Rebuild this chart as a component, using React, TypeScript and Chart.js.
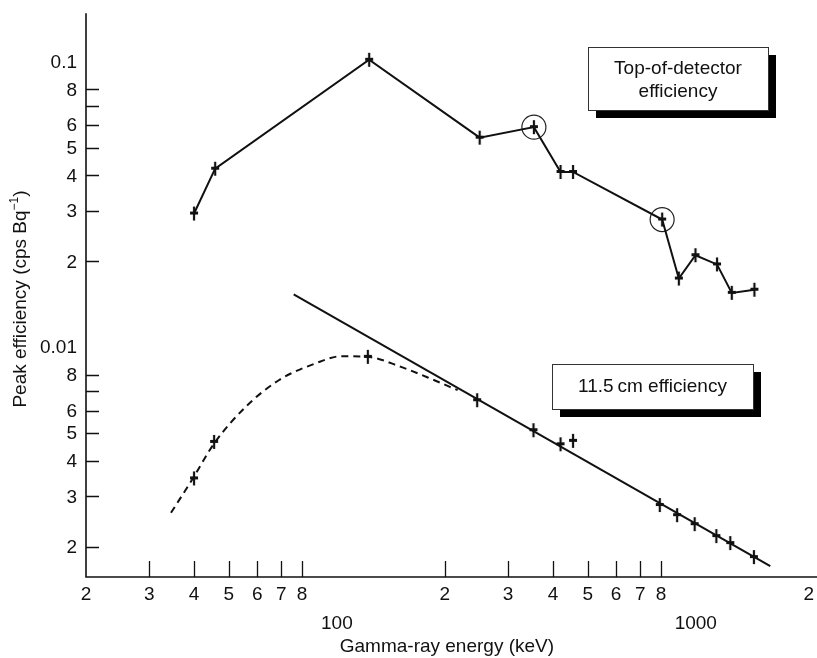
import React, { useEffect, useRef } from "react";
import { Chart, registerables } from "chart.js";

Chart.register(...registerables);

// ---- Data (energy in keV, efficiency in cps/Bq) ----
const topEnergy = [40, 45.8, 123, 250, 354, 420, 455, 806, 897, 998, 1146, 1260, 1457];
const topEff = [0.0294, 0.0422, 0.1016, 0.0542, 0.059, 0.0411, 0.0411, 0.028, 0.0174, 0.021, 0.0195, 0.0155, 0.0159];

const circledEnergy = [354, 806];
const circledEff = [0.059, 0.028];

const cmEnergy = [40, 45.5, 122, 246, 353, 420, 455, 794, 887, 993, 1141, 1248, 1452];
const cmEff = [0.00347, 0.00466, 0.00925, 0.00652, 0.00512, 0.00457, 0.0047, 0.0028, 0.00258, 0.0024, 0.00218, 0.00206, 0.00184];

const fitLineEnergy = [75.8, 1613];
const fitLineEff = [0.0153, 0.00171];

const lowCurveEnergy = [34.5, 39.7, 45.5, 55.7, 68.9, 87.1, 103, 122, 151, 187, 217];
const lowCurveEff = [0.00263, 0.00347, 0.0046, 0.00618, 0.00766, 0.00877, 0.0093, 0.00925, 0.00853, 0.00766, 0.00707];

// ---- Axis ticks and labels ----
const xMin = 20;
const xMax = 2000;
const yMin = 0.001567;
const yMax = 0.1479;

const xTickValues = [30, 40, 50, 60, 70, 80, 200, 300, 400, 500, 600, 700, 800];
const xLabelValues = [20, 30, 40, 50, 60, 70, 80, 200, 300, 400, 500, 600, 700, 800, 2000];
const xLabelTexts = ["2", "3", "4", "5", "6", "7", "8", "2", "3", "4", "5", "6", "7", "8", "2"];
const xDecadeValues = [100, 1000];
const xDecadeTexts = ["100", "1000"];

const yTickValues = [0.08, 0.07, 0.06, 0.05, 0.04, 0.03, 0.02, 0.008, 0.007, 0.006, 0.005, 0.004, 0.003, 0.002];
const yLabelValues = [0.1, 0.08, 0.06, 0.05, 0.04, 0.03, 0.02, 0.01, 0.008, 0.006, 0.005, 0.004, 0.003, 0.002];
const yLabelTexts = ["0.1", "8", "6", "5", "4", "3", "2", "0.01", "8", "6", "5", "4", "3", "2"];

const xTitle = "Gamma-ray energy (keV)";
const yTitleMain = "Peak efficiency (cps Bq";
const yTitleSup = "\u22121";
const yTitleEnd = ")";

const legendTop = ["Top-of-detector", "efficiency"];
const legendBottom = ["11.5\u2009cm efficiency"];

const FONT = '"Liberation Sans", Arial, Helvetica, sans-serif';

function pts(xs: number[], ys: number[]) {
  return xs.map((x, i) => ({ x, y: ys[i] }));
}

function makeMarker(): HTMLCanvasElement {
  const c = document.createElement("canvas");
  c.width = 10;
  c.height = 16;
  const g = c.getContext("2d")!;
  g.strokeStyle = "#111";
  g.lineCap = "butt";
  g.lineWidth = 2.2;
  g.beginPath();
  g.moveTo(5, 1);
  g.lineTo(5, 15);
  g.stroke();
  g.lineWidth = 3;
  g.beginPath();
  g.moveTo(1, 7.5);
  g.lineTo(9, 7.5);
  g.stroke();
  return c;
}

const decorPlugin = {
  id: "decor",
  afterDatasetsDraw(chart: any) {
    const ctx: CanvasRenderingContext2D = chart.ctx;
    const xs = chart.scales.x;
    const ys = chart.scales.y;
    const ca = chart.chartArea;
    ctx.save();
    ctx.strokeStyle = "#111";
    ctx.fillStyle = "#111";

    // axis lines
    ctx.lineWidth = 1.6;
    ctx.beginPath();
    ctx.moveTo(ca.left, ca.top);
    ctx.lineTo(ca.left, ca.bottom);
    ctx.lineTo(chart.width, ca.bottom);
    ctx.stroke();

    // ticks (pointing inward)
    ctx.lineWidth = 1.3;
    ctx.beginPath();
    xTickValues.forEach((v) => {
      const px = Math.round(xs.getPixelForValue(v)) + 0.5;
      ctx.moveTo(px, ca.bottom);
      ctx.lineTo(px, ca.bottom - 16);
    });
    yTickValues.forEach((v) => {
      const py = Math.round(ys.getPixelForValue(v)) + 0.5;
      ctx.moveTo(ca.left, py);
      ctx.lineTo(ca.left + 13, py);
    });
    ctx.stroke();

    // tick labels
    ctx.font = "19px " + FONT;
    ctx.textBaseline = "middle";
    ctx.textAlign = "center";
    xLabelValues.forEach((v, i) => {
      const shift = i === xLabelValues.length - 1 ? 5 : 0;
      ctx.fillText(xLabelTexts[i], xs.getPixelForValue(v) + shift, ca.bottom + 18);
    });
    xDecadeValues.forEach((v, i) => {
      ctx.fillText(xDecadeTexts[i], xs.getPixelForValue(v), ca.bottom + 47);
    });
    ctx.textAlign = "right";
    yLabelValues.forEach((v, i) => {
      ctx.fillText(yLabelTexts[i], ca.left - 9, ys.getPixelForValue(v) + 1);
    });

    // x title
    ctx.textAlign = "center";
    ctx.fillText(xTitle, (ca.left + ca.right) / 2 + 2, ca.bottom + 70);

    // y title (rotated, with superscript)
    ctx.save();
    ctx.translate(26, 299);
    ctx.rotate(-Math.PI / 2);
    ctx.textAlign = "left";
    ctx.textBaseline = "alphabetic";
    ctx.font = "19px " + FONT;
    const w1 = ctx.measureText(yTitleMain).width;
    const w3 = ctx.measureText(yTitleEnd).width;
    ctx.font = "12px " + FONT;
    const w2 = ctx.measureText(yTitleSup).width;
    let tx = -(w1 + w2 + w3) / 2;
    ctx.font = "19px " + FONT;
    ctx.fillText(yTitleMain, tx, 0);
    tx += w1;
    ctx.font = "12px " + FONT;
    ctx.fillText(yTitleSup, tx, -8);
    tx += w2;
    ctx.font = "19px " + FONT;
    ctx.fillText(yTitleEnd, tx, 0);
    ctx.restore();

    // legend boxes with drop shadow
    const drawBox = (x: number, y: number, w: number, h: number, lines: string[], cy: number, lh: number) => {
      ctx.fillStyle = "#000";
      ctx.fillRect(x + 8, y + 8, w, h);
      ctx.fillStyle = "#fff";
      ctx.fillRect(x, y, w, h);
      ctx.lineWidth = 1;
      ctx.strokeStyle = "#333";
      ctx.strokeRect(x + 0.5, y + 0.5, w, h);
      ctx.fillStyle = "#111";
      ctx.font = "19px " + FONT;
      ctx.textAlign = "center";
      ctx.textBaseline = "middle";
      const start = cy - ((lines.length - 1) * lh) / 2;
      lines.forEach((t, i) => ctx.fillText(t, x + w / 2, start + i * lh));
    };
    drawBox(588, 47, 180, 63, legendTop, 80, 23);
    drawBox(552, 364, 201, 45, legendBottom, 387, 23);

    ctx.restore();
  },
};

export default function App() {
  const ref = useRef<HTMLCanvasElement | null>(null);

  useEffect(() => {
    if (!ref.current) return;
    const marker = makeMarker();
    const chart = new Chart(ref.current, {
      type: "scatter",
      data: {
        datasets: [
          {
            label: "Top-of-detector efficiency",
            data: pts(topEnergy, topEff),
            showLine: true,
            borderColor: "#111",
            borderWidth: 2,
            pointStyle: marker as any,
            pointRadius: 6,
            tension: 0,
          },
          {
            label: "circled",
            data: pts(circledEnergy, circledEff),
            showLine: false,
            pointStyle: "circle",
            pointRadius: 12,
            pointBorderWidth: 1.2,
            pointBorderColor: "#222",
            pointBackgroundColor: "rgba(0,0,0,0)",
          },
          {
            label: "11.5 cm efficiency",
            data: pts(cmEnergy, cmEff),
            showLine: false,
            pointStyle: marker as any,
            pointRadius: 6,
          },
          {
            label: "fit",
            data: pts(fitLineEnergy, fitLineEff),
            showLine: true,
            borderColor: "#111",
            borderWidth: 2,
            pointRadius: 0,
          },
          {
            label: "low-energy fit",
            data: pts(lowCurveEnergy, lowCurveEff),
            showLine: true,
            borderColor: "#111",
            borderWidth: 2,
            borderDash: [7, 5],
            pointRadius: 0,
            cubicInterpolationMode: "monotone",
          },
        ],
      },
      options: {
        animation: false,
        responsive: false,
        devicePixelRatio: 1,
        layout: { padding: { left: 86, right: 9, top: 13, bottom: 81 } },
        plugins: {
          legend: { display: false },
          tooltip: { enabled: false },
          title: { display: false },
        },
        events: [],
        scales: {
          x: { type: "logarithmic", min: xMin, max: xMax, bounds: "data", display: false },
          y: { type: "logarithmic", min: yMin, max: yMax, bounds: "data", display: false },
        },
      },
      plugins: [decorPlugin],
    });
    return () => chart.destroy();
  }, []);

  return (
    <div style={{ position: "fixed", left: 0, top: 0, width: 817, height: 658, background: "#fff" }}>
      <canvas ref={ref} width={817} height={658} style={{ display: "block" }} />
    </div>
  );
}
